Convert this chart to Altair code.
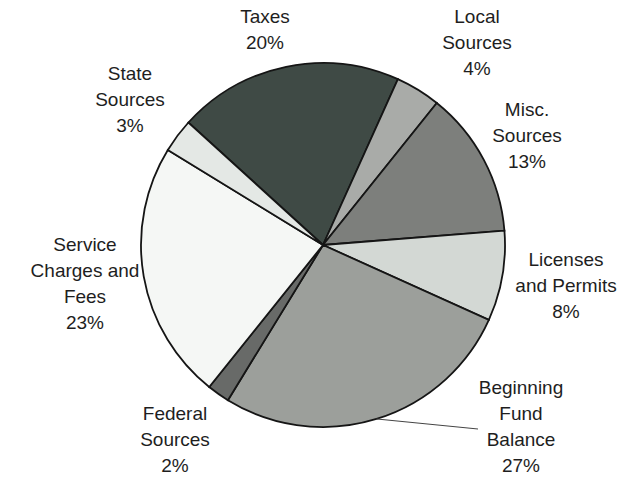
import math
import altair as alt
import pandas as pd

# ---- data ----
categories = ["Taxes", "Local Sources", "Misc. Sources", "Licenses and Permits",
              "Beginning Fund Balance", "Federal Sources",
              "Service Charges and Fees", "State Sources"]
percents = [20, 4, 13, 8, 27, 2, 23, 3]
label_texts = ["Taxes\n20%", "Local\nSources\n4%", "Misc.\nSources\n13%",
               "Licenses\nand Permits\n8%", "Beginning\nFund\nBalance\n27%",
               "Federal\nSources\n2%", "Service\nCharges and\nFees\n23%",
               "State\nSources\n3%"]
colors = ["#3f4a45", "#a9aba8", "#7d7f7c", "#d3d8d4",
          "#9c9f9b", "#686a68", "#f5f7f5", "#e4e8e5"]

# ---- layout ----
W, H = 620, 470
PAD_L, PAD_T = 13, 10
R = 182
START = math.radians(-47.7)
# offset of each label's first line from the pie centre (pixels)
label_dx = [-58, 154, 204, 243, 198, -148, -238, -193]
label_dy = [-228, -228, -135, 15, 143, 169, 0, -171]
leader_cat = "Beginning Fund Balance"
leader_end = (155, 184)  # relative to pie centre

df = pd.DataFrame({"cat": categories, "pct": percents,
                   "idx": list(range(len(categories)))})

lab = pd.DataFrame({
    "cat": categories,
    "text": label_texts,
    "lt": [math.atan2(dx, -dy) for dx, dy in zip(label_dx, label_dy)],
    "lr": [math.hypot(dx, dy) for dx, dy in zip(label_dx, label_dy)],
})

# leader line from slice mid-angle at the rim to label
total = sum(percents)
i = categories.index(leader_cat)
cum = sum(percents[:i])
mid = START + 2 * math.pi * (cum + percents[i] / 2) / total
cx, cy = W / 2, H / 2
x0 = cx + R * math.sin(mid)
y0 = cy - R * math.cos(mid)
lead = pd.DataFrame({"x": [x0, cx + leader_end[0]],
                     "y": [y0, cy + leader_end[1]], "o": [0, 1]})

pie = alt.Chart(df).mark_arc(outerRadius=R, stroke="#151515", strokeWidth=1.8).encode(
    theta=alt.Theta("pct:Q", stack=True,
                    scale=alt.Scale(range=[START, START + 2 * math.pi])),
    color=alt.Color("cat:N", scale=alt.Scale(domain=categories, range=colors), legend=None),
    order=alt.Order("idx:Q"),
)

labels = alt.Chart(lab).mark_text(
    font="Liberation Sans", fontSize=19, lineHeight=26, lineBreak="\n",
    align="center", baseline="middle", color="#1e1e1e"
).encode(
    theta=alt.Theta("lt:Q", scale=None, stack=False),
    radius=alt.Radius("lr:Q", scale=None),
    text="text:N",
)

leader = alt.Chart(lead).mark_line(color="#444444", strokeWidth=1).encode(
    x=alt.X("x:Q", scale=None, axis=None),
    y=alt.Y("y:Q", scale=None, axis=None),
    order="o:Q",
)

chart = alt.layer(pie, leader, labels).resolve_scale(theta="independent").properties(
    width=W, height=H,
    autosize=alt.AutoSizeParams(type="none"),
    padding={"left": PAD_L, "top": PAD_T, "right": 0, "bottom": 0},
    background="white",
).configure_view(stroke=None)

chart.save("out.html", embed_options={"renderer": "svg", "actions": False})
